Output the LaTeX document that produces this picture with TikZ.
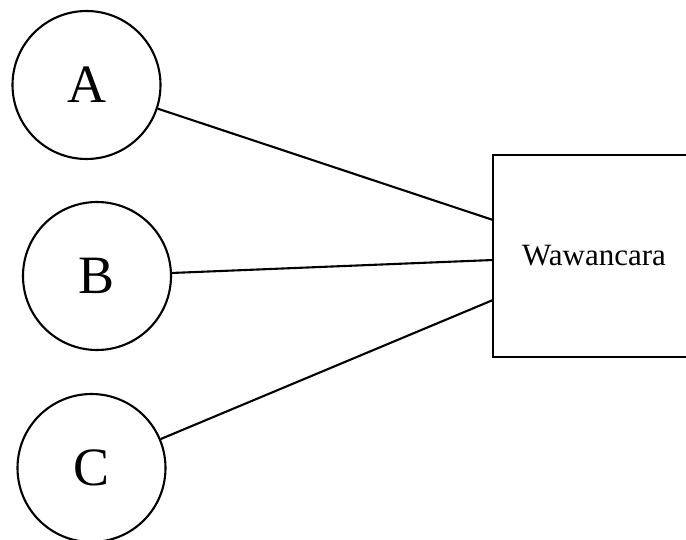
\documentclass[tikz,border=0pt]{standalone}
\usepackage{fontspec}
\setmainfont{Liberation Serif}
\begin{document}
\begin{tikzpicture}[x=1pt,y=-1pt,
  circ/.style={circle,draw,line width=2.1pt,minimum size=148pt,inner sep=0pt,font=\fontsize{54}{60}\selectfont},
  box/.style={rectangle,draw,line width=2.1pt,minimum width=202pt,minimum height=202pt,inner sep=0pt,font=\fontsize{31}{36}\selectfont},
  conn/.style={line width=2.1pt}]
\useasboundingbox (0,0) rectangle (686,540);
\node[circ] (A) at (86.5,85) {A};
\node[circ] (B) at (97,276) {B};
\node[circ] (C) at (91.5,468) {C};
\node[box] (W) at (594,256) {Wawancara};
\coordinate (pA) at (493,220);
\coordinate (pB) at (493,260);
\coordinate (pC) at (493,300);
\draw[conn] (A) -- (pA);
\draw[conn] (B) -- (pB);
\draw[conn] (C) -- (pC);
\end{tikzpicture}
\end{document}
